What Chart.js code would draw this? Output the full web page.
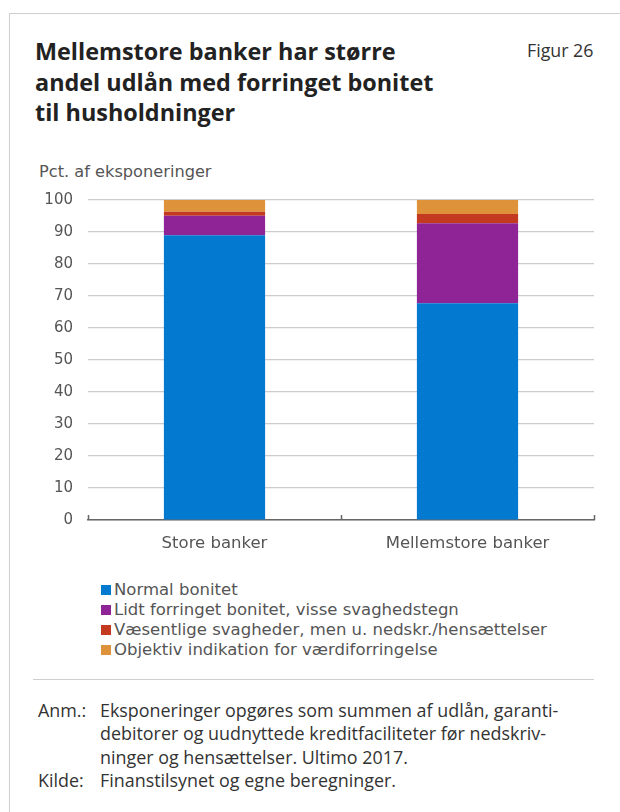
<!DOCTYPE html>
<html><head><meta charset="utf-8">
<script src="https://cdn.jsdelivr.net/npm/chart.js@4/dist/chart.umd.min.js"></script>
<style>
html,body{margin:0;padding:0;background:#fff;}
body{width:620px;height:812px;position:relative;overflow:hidden;}
#frameTop{position:absolute;left:9px;top:13px;width:611px;height:0;border-top:1.5px solid #cfcfcf;}
#frameLeft{position:absolute;left:9px;top:13px;width:0;height:800px;border-left:1.5px solid #cfcfcf;}
#title{position:absolute;left:35px;top:36px;font-family:"Open Sans",sans-serif;font-weight:700;font-size:23.4px;line-height:30.5px;color:#222;}
#fig{position:absolute;left:527px;top:38px;font-family:"Open Sans",sans-serif;font-size:17.8px;color:#333;}
#ytitle{position:absolute;left:39px;top:162px;font-family:"DejaVu Sans",sans-serif;font-size:16.2px;color:#555;}
#chartwrap{position:absolute;left:0;top:0;width:620px;height:560px;}
#legend{position:absolute;left:101px;top:580px;font-family:"DejaVu Sans",sans-serif;font-size:16.5px;color:#555;line-height:20px;}
#legend .it{display:flex;align-items:center;}
#legend .sw{width:10px;height:10px;margin-right:3px;display:inline-block;}
#sep{position:absolute;left:33px;top:679px;width:561px;height:0;border-top:1.5px solid #cfcfcf;}
#notes{position:absolute;left:38px;top:699px;font-family:"Open Sans",sans-serif;font-size:17.9px;color:#333;line-height:23.3px;}
#notes .row{display:flex;}
#notes .lab{width:62px;flex:none;}
</style></head>
<body>
<div id="frameTop"></div><div id="frameLeft"></div>
<div id="title">Mellemstore banker har større<br>andel udlån med forringet bonitet<br>til husholdninger</div>
<div id="fig">Figur 26</div>
<div id="ytitle">Pct. af eksponeringer</div>
<div id="chartwrap"><canvas id="c" width="620" height="560"></canvas></div>
<div id="legend"></div>
<div id="sep"></div>
<div id="notes">
<div class="row"><div class="lab">Anm.:</div><div>Eksponeringer opgøres som summen af udlån, garanti-<br>debitorer og uudnyttede kreditfaciliteter før nedskriv-<br>ninger og hensættelser. Ultimo 2017.</div></div>
<div class="row"><div class="lab">Kilde:</div><div>Finanstilsynet og egne beregninger.</div></div>
</div>
<script>
const categories = ["Store banker", "Mellemstore banker"];
const seriesNames = ["Normal bonitet", "Lidt forringet bonitet, visse svaghedstegn", "Væsentlige svagheder, men u. nedskr./hensættelser", "Objektiv indikation for værdiforringelse"];
const normalBonitet = [89.0, 67.7];
const lidtForringet = [6.1, 25.0];
const vaesentlige = [1.2, 2.9];
const objektiv = [3.7, 4.4];
const yTicks = [0, 10, 20, 30, 40, 50, 60, 70, 80, 90, 100];
const colors = ["#0479D0", "#8F2497", "#C33A21", "#DE923A"];

const values = [normalBonitet, lidtForringet, vaesentlige, objektiv];
const datasets = values.map((v, i) => ({
  label: seriesNames[i], data: v, backgroundColor: colors[i], borderWidth: 0,
  barPercentage: 0.4, categoryPercentage: 1.0
}));

const lg = document.getElementById('legend');
seriesNames.forEach((n, i) => {
  const d = document.createElement('div'); d.className = 'it';
  const s = document.createElement('span'); s.className = 'sw'; s.style.background = colors[i];
  d.appendChild(s); d.appendChild(document.createTextNode(n)); lg.appendChild(d);
});

const axisTicks = {
  id: 'axisTicks',
  afterDraw(chart) {
    const ctx = chart.ctx, a = chart.chartArea, xs = chart.scales.x;
    const n = xs.ticks.length;
    const pts = [];
    for (let i = 0; i <= n; i++) pts.push(xs.left + (xs.right - xs.left) * i / n);
    ctx.save();
    ctx.strokeStyle = '#666'; ctx.lineWidth = 1.5;
    ctx.beginPath();
    pts.forEach(x => { ctx.moveTo(Math.round(x) + 0.5, a.bottom); ctx.lineTo(Math.round(x) + 0.5, a.bottom - 5); });
    ctx.stroke();
    ctx.restore();
  }
};

new Chart(document.getElementById('c'), {
  type: 'bar',
  data: { labels: categories, datasets },
  options: {
    responsive: false, animation: false,
    layout: { padding: { top: 200, right: 26, left: 0, bottom: 0 } },
    plugins: { legend: { display: false }, tooltip: { enabled: false } },
    scales: {
      x: {
        stacked: true,
        afterFit(s) { s.height = 40; },
        grid: { display: false, drawTicks: false },
        border: { display: true, color: '#666', width: 1.5 },
        ticks: { color: '#555', font: { family: 'DejaVu Sans', size: 16.5 }, padding: 14 }
      },
      y: {
        stacked: true, min: 0, max: 100,
        afterFit(s) { s.width = 88; },
        afterBuildTicks(s) { s.ticks = yTicks.map(v => ({ value: v })); },
        grid: { color: '#cccccc', lineWidth: 1.2, drawTicks: false },
        border: { display: false },
        ticks: { color: '#555', font: { family: 'DejaVu Sans', size: 15 }, padding: 15 }
      }
    }
  },
  plugins: [axisTicks]
});
</script>
</body></html>
